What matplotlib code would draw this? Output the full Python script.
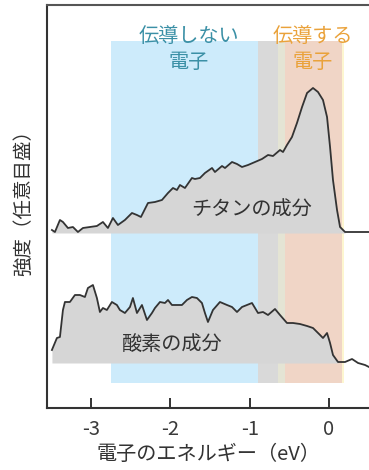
import numpy as np
import matplotlib
matplotlib.use("Agg")
import matplotlib.pyplot as plt

plt.rcParams['font.family'] = ['Noto Sans CJK JP', 'DejaVu Sans']
plt.rcParams['axes.unicode_minus'] = False

# Titanium component spectrum (energy in eV, intensity in arbitrary units)
ti_energy = [-3.493, -3.455, -3.392, -3.354, -3.291, -3.228, -3.165, -3.102, -3.014, -2.926,
             -2.850, -2.787, -2.724, -2.661, -2.573, -2.484, -2.421, -2.371, -2.282, -2.194,
             -2.106, -2.030, -1.967, -1.917, -1.879, -1.816, -1.728, -1.690, -1.627, -1.564,
             -1.475, -1.438, -1.349, -1.311, -1.223, -1.160, -1.097, -1.021, -0.933, -0.845,
             -0.769, -0.706, -0.618, -0.580, -0.530, -0.467, -0.404, -0.340, -0.277, -0.202,
             -0.139, -0.076, -0.025, 0.013, 0.050, 0.101, 0.139, 0.202, 0.265, 0.504]
ti_intensity = [3, 1, 13, 11, 5, 6, 1, 5, 6, 7,
                11, 5, 15, 8, 13, 20, 18, 16, 30, 31,
                33, 40, 45, 43, 48, 45, 55, 54, 55, 60,
                65, 61, 67, 65, 71, 69, 66, 68, 71, 74,
                78, 77, 83, 81, 88, 96, 110, 126, 140, 145,
                141, 133, 116, 86, 53, 23, 6, 1, 1, 1]

# Oxygen component spectrum
o_energy = [-3.493, -3.430, -3.392, -3.354, -3.329, -3.266, -3.203, -3.140, -3.077, -3.039,
            -2.976, -2.926, -2.888, -2.850, -2.800, -2.737, -2.674, -2.636, -2.573, -2.509,
            -2.472, -2.421, -2.358, -2.295, -2.232, -2.194, -2.131, -2.068, -2.030, -1.980,
            -1.917, -1.854, -1.791, -1.728, -1.665, -1.602, -1.564, -1.526, -1.463, -1.375,
            -1.286, -1.223, -1.160, -1.097, -1.034, -0.971, -0.933, -0.895, -0.832, -0.769,
            -0.681, -0.618, -0.530, -0.454, -0.366, -0.277, -0.202, -0.113, -0.076, -0.025,
            0.013, 0.050, 0.113, 0.202, 0.290, 0.366, 0.454, 0.504]
o_intensity = [13, 25, 26, 53, 61, 61, 68, 68, 66, 75,
               78, 65, 51, 55, 53, 61, 58, 53, 50, 56,
               65, 50, 58, 43, 50, 55, 61, 60, 63, 58,
               58, 58, 63, 66, 65, 60, 50, 41, 53, 61,
               58, 56, 51, 56, 58, 60, 55, 50, 51, 48,
               54, 48, 40, 40, 39, 37, 35, 28, 25, 30,
               20, 8, 1, 1, 4, 0, -2, -4]

ti_offset = 175
o_offset = 45

# Energy bands: (start, end, colour)
band_edges = [(-2.75, -0.90, '#cdebfb'),
              (-0.90, -0.64, '#d9d9d9'),
              (-0.64, -0.55, '#e4e4d4'),
              (-0.55, 0.16, '#f0d5c6'),
              (0.16, 0.185, '#fdf6d0')]
band_bottom, band_top = 25, 367

xticks = [-3, -2, -1, 0]
xtick_labels = ['-3', '-2', '-1', '0']

fig = plt.figure(figsize=(3.69, 4.70), dpi=100)
ax = fig.add_axes([47 / 369, 62 / 470, 1 - 47 / 369, 403 / 470])
ax.set_xlim(-3.555, 0.504)
ax.set_ylim(0, 403)

for x0, x1, c in band_edges:
    ax.fill_between([x0, x1], band_bottom, band_top, color=c, lw=0, zorder=1)

ti_e = np.array(ti_energy)
ti_y = np.array(ti_intensity) + ti_offset
o_e = np.array(o_energy)
o_y = np.array(o_intensity) + o_offset

ax.fill_between(ti_e, ti_offset, ti_y, where=ti_e <= 0.21, color='#d6d6d6', lw=0, zorder=2)
ax.fill_between(o_e, o_offset, o_y, where=o_e <= 0.12, color='#d6d6d6', lw=0, zorder=2)
ax.plot(ti_e, ti_y, color='#333333', lw=1.3, zorder=3)
ax.plot(o_e, o_y, color='#333333', lw=1.3, zorder=3)

ax.text(-1.77, 358, '伝導しない\n電子', color='#3b90a6', fontsize=14.5,
        ha='center', va='center', linespacing=1.2, zorder=4)
ax.text(-0.21, 358, '伝導する\n電子', color='#eaa23a', fontsize=14.5,
        ha='center', va='center', linespacing=1.2, zorder=4)
ax.text(-0.98, 198, 'チタンの成分', color='#333333', fontsize=14.5,
        ha='center', va='center', zorder=4)
ax.text(-1.98, 63, '酸素の成分', color='#333333', fontsize=14.5,
        ha='center', va='center', zorder=4)

for side in ['left', 'bottom', 'top']:
    ax.spines[side].set_color('#333333')
    ax.spines[side].set_linewidth(1.5)
ax.spines['top'].set_color('#555555')
ax.spines['right'].set_visible(False)

ax.set_yticks([])
ax.set_xticks(xticks)
ax.set_xticklabels(xtick_labels, fontsize=14.5, color='#3a3a3a')
ax.tick_params(axis='x', direction='in', length=7, width=1.4, color='#333333', pad=8)
ax.set_xlabel('電子のエネルギー（eV）', fontsize=14.5, color='#333333', labelpad=3)
ax.set_ylabel('強度（任意目盛）', fontsize=14, color='#333333')
ax.yaxis.set_label_coords(-0.04, 0.52)

fig.savefig('out.png', dpi=100)
